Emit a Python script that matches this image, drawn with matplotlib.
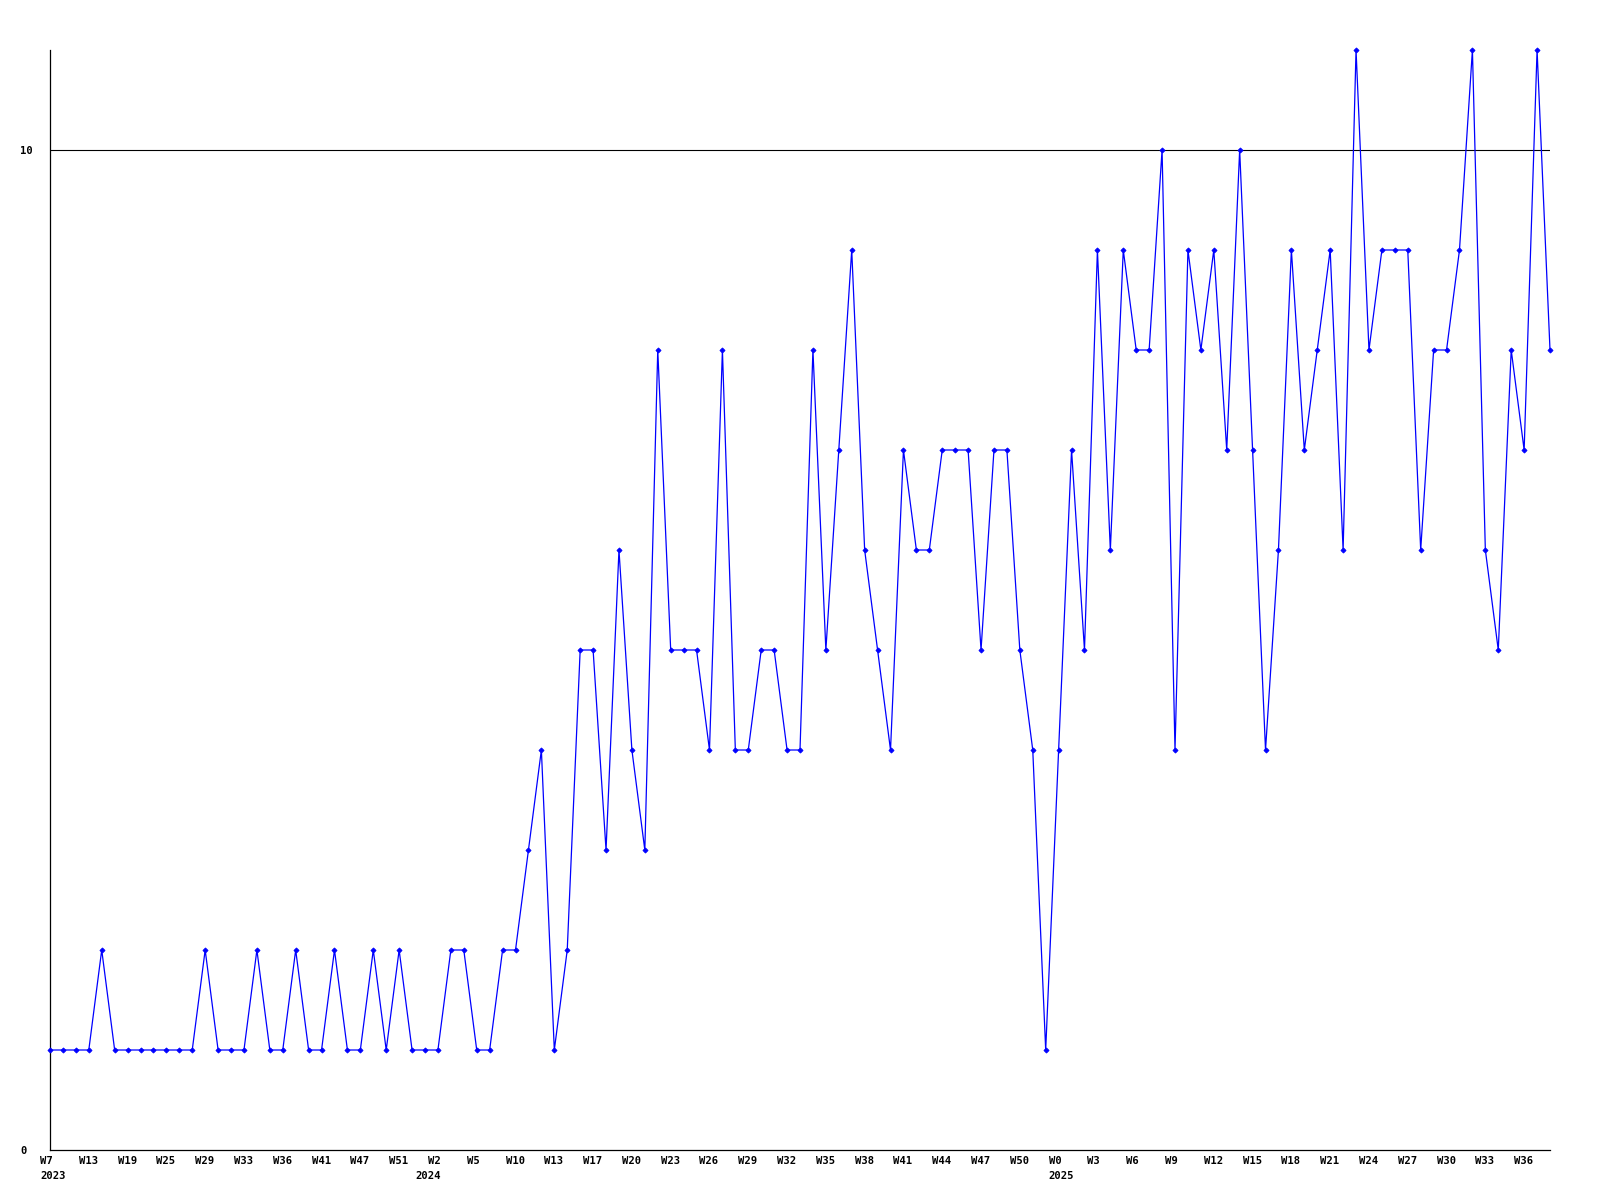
import matplotlib
matplotlib.use("Agg")
import matplotlib.pyplot as plt
import matplotlib.transforms as mtransforms

# ---- data ----
values = [
    1, 1, 1, 1, 2, 1, 1, 1, 1, 1, 1, 1,
    2, 1, 1, 1, 2, 1, 1, 2, 1, 1, 2, 1,
    1, 2, 1, 2, 1, 1, 1, 2, 2, 1, 1, 2,
    2, 3, 4, 1, 2, 5, 5, 3, 6, 4, 3, 8,
    5, 5, 5, 4, 8, 4, 4, 5, 5, 4, 4, 8,
    5, 7, 9, 6, 5, 4, 7, 6, 6, 7, 7, 7,
    5, 7, 7, 5, 4, 1, 4, 7, 5, 9, 6, 9,
    8, 8, 10, 4, 9, 8, 9, 7, 10, 7, 4, 6,
    9, 7, 8, 9, 6, 11, 8, 9, 9, 9, 6, 8,
    8, 9, 11, 6, 5, 8, 7, 11, 8,
]
tick_weeks = ["W7", "W13", "W19", "W25", "W29", "W33", "W36", "W41", "W47", "W51",
              "W2", "W5", "W10", "W13", "W17", "W20", "W23", "W26", "W29", "W32",
              "W35", "W38", "W41", "W44", "W47", "W50", "W0", "W3", "W6", "W9",
              "W12", "W15", "W18", "W21", "W24", "W27", "W30", "W33", "W36"]
year_labels = ["2023", "2024", "2025"]
year_start_index = [0, 29, 78]
tick_step = 3
y_ticks = [0, 10]

# ---- figure ----
fig = plt.figure(figsize=(16, 12), dpi=100)
ax = fig.add_axes([50 / 1600, 50 / 1200, 1500 / 1600, 1100 / 1200])

x = list(range(len(values)))
ax.plot(x, values, color=(0, 0, 1), lw=0.9, marker="D", markersize=2.6,
        markeredgewidth=0.6, markerfacecolor=(0, 0, 1), markeredgecolor=(0, 0, 1),
        zorder=3, clip_on=False)
ax.axhline(10, color="black", lw=0.8, zorder=2)

ax.set_xlim(0, len(values) - 1)
ax.set_ylim(0, 11)

for s in ["top", "right"]:
    ax.spines[s].set_visible(False)
for s in ["left", "bottom"]:
    ax.spines[s].set_linewidth(0.9)
    ax.spines[s].set_color("black")

font = dict(family="DejaVu Sans Mono", weight="bold", size=7.6)

pad_pt = 4.5
tick_pos = [i * tick_step for i in range(len(tick_weeks))]
ax.set_xticks(tick_pos)
ax.set_xticklabels(tick_weeks, fontdict=font)
ax.tick_params(axis="x", length=0, pad=pad_pt)
offset = mtransforms.ScaledTranslation(-10 / 100, 0, fig.dpi_scale_trans)
for lab in ax.get_xticklabels():
    lab.set_horizontalalignment("left")
    lab.set_verticalalignment("top")
    lab.set_transform(lab.get_transform() + offset)

# year labels under the first week of each year
year_tr = (mtransforms.blended_transform_factory(ax.transData, ax.transAxes)
           + mtransforms.ScaledTranslation(-10 / 100, -(pad_pt / 72 + 15 / 100),
                                           fig.dpi_scale_trans))
for idx, yl in zip(year_start_index, year_labels):
    ax.text(idx, 0, yl, transform=year_tr, ha="left", va="top", **font)

ax.set_yticks(y_ticks)
ax.set_yticklabels([str(v) for v in y_ticks], fontdict=font)
ax.tick_params(axis="y", length=0, pad=21.6)
for lab in ax.get_yticklabels():
    lab.set_horizontalalignment("left")

fig.savefig("out.png", dpi=100, facecolor="white")
